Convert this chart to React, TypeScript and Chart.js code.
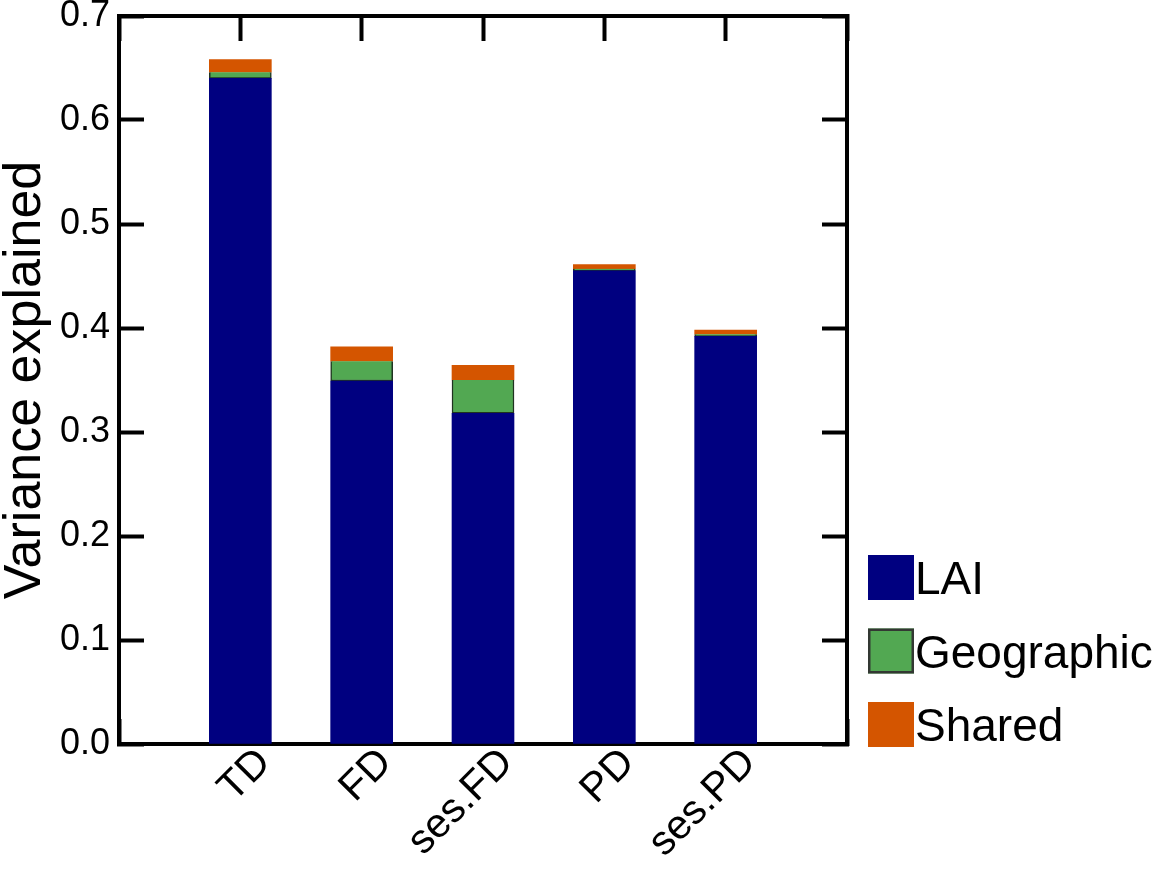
import React, { useEffect, useRef } from 'react';
import { Chart, registerables } from 'chart.js';

Chart.register(...registerables);

const categories = ['TD', 'FD', 'ses.FD', 'PD', 'ses.PD'];
const laiValues = [0.640, 0.349, 0.318, 0.455, 0.392];
const geographicValues = [0.006, 0.019, 0.032, 0.002, 0.002];
const sharedValues = [0.012, 0.014, 0.014, 0.004, 0.004];
const seriesNames = ['LAI', 'Geographic', 'Shared'];
const yMin = 0;
const yMax = 0.7;
const yStep = 0.1;

const FONT = "'Liberation Sans', Arial, Helvetica, sans-serif";
const colors = ['#000080', '#52a852', '#d45500'];

// padded category labels so that bars sit at the interior ticks
const paddedLabels = ['', ...categories, ''];
const pad = (arr: number[]) => [null, ...arr, null];

const sideLegend = {
  id: 'sideLegend',
  afterDraw(chart: any) {
    const ctx = chart.ctx;
    const boxX = 868;
    const boxW = 46;
    const boxH = 45;
    const top0 = 555;
    const step = 73.5;
    ctx.save();
    chart.data.datasets.forEach((ds: any, i: number) => {
      const y = top0 + i * step;
      ctx.fillStyle = ds.backgroundColor;
      ctx.fillRect(boxX, y, boxW, boxH);
      if (ds.legendBorder) {
        ctx.strokeStyle = ds.legendBorder;
        ctx.lineWidth = 2.5;
        ctx.strokeRect(boxX + 1.25, y + 1.25, boxW - 2.5, boxH - 2.5);
      }
      ctx.fillStyle = '#000';
      ctx.font = `46px ${FONT}`;
      ctx.textAlign = 'left';
      ctx.textBaseline = 'alphabetic';
      ctx.fillText(ds.label, boxX + boxW + 1, y + 39);
    });
    ctx.restore();
  },
};

const gridOpts = {
  drawOnChartArea: false,
  drawTicks: true,
  offset: false,
  tickLength: -25,
  tickWidth: 4,
  tickColor: '#000',
};

export default function App() {
  const canvasRef = useRef<HTMLCanvasElement>(null);

  useEffect(() => {
    const canvas = canvasRef.current;
    if (!canvas) return;
    const chart = new Chart(canvas, {
      type: 'bar',
      data: {
        labels: paddedLabels,
        datasets: [
          {
            label: seriesNames[0],
            data: pad(laiValues),
            backgroundColor: colors[0],
            borderWidth: 0,
            barThickness: 62,
          },
          {
            label: seriesNames[1],
            data: pad(geographicValues),
            backgroundColor: colors[1],
            borderColor: '#1f3320',
            borderWidth: 1.5,
            borderSkipped: 'top',
            barThickness: 62,
            legendBorder: '#333833',
          } as any,
          {
            label: seriesNames[2],
            data: pad(sharedValues),
            backgroundColor: colors[2],
            borderWidth: 0,
            barThickness: 62,
          },
        ],
      },
      options: {
        responsive: false,
        animation: false,
        layout: { padding: 0 },
        plugins: {
          legend: { display: false },
          tooltip: { enabled: false },
        },
        scales: {
          x: {
            type: 'category',
            position: 'bottom',
            stacked: true,
            offset: false,
            grid: gridOpts,
            border: { display: true, color: '#000', width: 4 },
            ticks: {
              autoSkip: false,
              maxRotation: 45,
              minRotation: 45,
              padding: 20,
              labelOffset: 24,
              color: '#000',
              font: { family: FONT, size: 41 },
            },
            afterFit: (s: any) => {
              s.height = 128;
              s.paddingLeft = 0;
              s.paddingRight = 0;
            },
          },
          x2: {
            type: 'category',
            position: 'top',
            offset: false,
            grid: gridOpts,
            border: { display: true, color: '#000', width: 4 },
            ticks: { display: false },
            afterFit: (s: any) => {
              s.height = 16;
              s.paddingLeft = 0;
              s.paddingRight = 0;
            },
          },
          y: {
            type: 'linear',
            position: 'left',
            stacked: true,
            min: yMin,
            max: yMax,
            grid: gridOpts,
            border: { display: true, color: '#000', width: 4 },
            ticks: {
              stepSize: yStep,
              padding: 34,
              color: '#000',
              font: { family: FONT, size: 36 },
              callback: (v: any) => Number(v).toFixed(1),
            },
            title: {
              display: true,
              text: 'Variance explained',
              color: '#000',
              font: { family: FONT, size: 52, lineHeight: 1 },
              padding: { top: 0, bottom: 0 },
            },
            afterFit: (s: any) => {
              s.width = 119;
              s.paddingTop = 0;
              s.paddingBottom = 0;
            },
          },
          y2: {
            type: 'linear',
            position: 'right',
            min: yMin,
            max: yMax,
            grid: gridOpts,
            border: { display: true, color: '#000', width: 4 },
            ticks: { display: false, stepSize: yStep },
            afterFit: (s: any) => {
              s.width = 312;
              s.paddingTop = 0;
              s.paddingBottom = 0;
            },
          },
        },
      } as any,
      plugins: [sideLegend],
    });
    return () => chart.destroy();
  }, []);

  return (
    <div style={{ position: 'absolute', left: 0, top: 0, width: 1159, height: 872, background: '#fff' }}>
      <canvas ref={canvasRef} width={1159} height={872} style={{ display: 'block' }} />
    </div>
  );
}
